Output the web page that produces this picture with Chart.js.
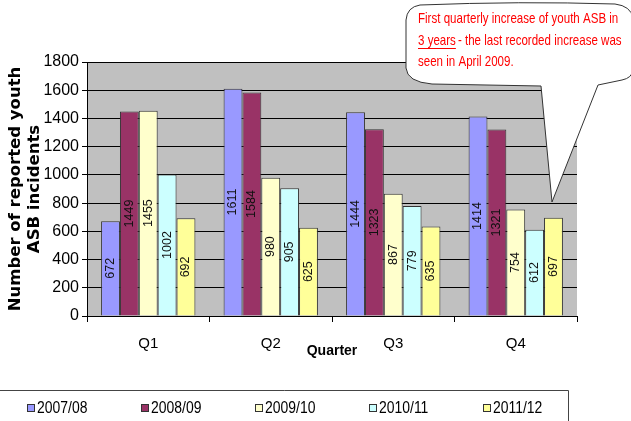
<!DOCTYPE html>
<html>
<head>
<meta charset="utf-8">
<script src="https://cdn.jsdelivr.net/npm/chart.js@4.4.1/dist/chart.umd.min.js"></script>
<style>
html,body{margin:0;padding:0;background:#fff;}
canvas{display:block;}
</style>
</head>
<body>
<canvas id="asbChart" width="631" height="421"></canvas>
<script>
// data
var QUARTERS=['Q1','Q2','Q3','Q4'];
var YEARS=['2007/08','2008/09','2009/10','2010/11','2011/12'];
var Y0708=[672,1611,1444,1414];
var Y0809=[1449,1584,1323,1321];
var Y0910=[1455,980,867,754];
var Y1011=[1002,905,779,612];
var Y1112=[692,625,635,697];
var Y_TICKS=[0,200,400,600,800,1000,1200,1400,1600,1800];
var COLORS=['#9999FF','#993366','#FFFFCC','#CCFFFF','#FFFF99'];
var NOTE_1='First quarterly increase of youth ASB in';
var NOTE_2A='3 years';
var NOTE_2B='- the last recorded increase was';
var NOTE_3='seen in April 2009.';

var SANS="'Liberation Sans',Arial,sans-serif";
var SERIES=[Y0708,Y0809,Y0910,Y1011,Y1112];

// draw text squeezed sideways, like the narrow face in the original
function narrowText(ctx,txt,x,y,sx){
  ctx.save();
  ctx.translate(x,y);
  ctx.scale(sx,1);
  ctx.fillText(txt,0,0);
  ctx.restore();
  return ctx.measureText(txt).width*sx;
}

// grey plot background
var plotBg={
  id:'plotBg',
  beforeDraw:function(chart){
    var a=chart.chartArea,ctx=chart.ctx;
    ctx.save();
    ctx.fillStyle='#C0C0C0';
    ctx.fillRect(a.left,a.top,a.right-a.left,a.bottom-a.top);
    ctx.restore();
  }
};

// rotated value labels in the middle of each bar
var barLabels={
  id:'barLabels',
  afterDatasetsDraw:function(chart){
    var ctx=chart.ctx;
    ctx.save();
    ctx.font='12.5px '+SANS;
    ctx.fillStyle='#111';
    ctx.textAlign='center';
    ctx.textBaseline='middle';
    chart.data.datasets.forEach(function(ds,di){
      chart.getDatasetMeta(di).data.forEach(function(bar,i){
        ctx.save();
        ctx.translate(bar.x,(bar.y+bar.base)/2);
        ctx.rotate(-Math.PI/2);
        ctx.fillText(String(ds.data[i]),0,0);
        ctx.restore();
      });
    });
    ctx.restore();
  }
};

// legend in an open box at the bottom
var legendBox={
  id:'legendBox',
  afterDraw:function(chart){
    var ctx=chart.ctx;
    ctx.save();
    ctx.strokeStyle='#444';
    ctx.lineWidth=1;
    ctx.beginPath();
    ctx.moveTo(0,390.5);ctx.lineTo(568.5,390.5);ctx.lineTo(568.5,421);
    ctx.stroke();
    ctx.font='17px '+SANS;
    ctx.textBaseline='middle';
    ctx.textAlign='left';
    chart.data.datasets.forEach(function(ds,i){
      var x=27+i*114;
      ctx.fillStyle=ds.backgroundColor;
      ctx.fillRect(x+0.5,404.5,7,7);
      ctx.strokeStyle='#333';
      ctx.strokeRect(x+0.5,404.5,7,7);
      ctx.fillStyle='#000';
      narrowText(ctx,ds.label,x+10,408.5,0.82);
    });
    ctx.restore();
  }
};

// speech bubble with the note
var callout={
  id:'callout',
  afterDraw:function(chart){
    var ctx=chart.ctx;
    ctx.save();
    ctx.beginPath();
    ctx.moveTo(420,5);
    ctx.quadraticCurveTo(520,1,615,4);
    ctx.quadraticCurveTo(631,6,633,18);
    ctx.lineTo(633,70);
    ctx.quadraticCurveTo(632,78,622,80);
    ctx.lineTo(598,85);
    ctx.lineTo(552,202);
    ctx.lineTo(541,86);
    ctx.lineTo(432,84);
    ctx.quadraticCurveTo(407,82,406,68);
    ctx.lineTo(406,20);
    ctx.quadraticCurveTo(407,7,420,5);
    ctx.closePath();
    ctx.fillStyle='#fff';
    ctx.fill();
    ctx.strokeStyle='#333';
    ctx.lineWidth=1;
    ctx.stroke();

    ctx.fillStyle='#FF0000';
    ctx.font='15px '+SANS;
    ctx.textBaseline='middle';
    ctx.textAlign='left';
    narrowText(ctx,NOTE_1,418,19,0.77);
    var w=narrowText(ctx,NOTE_2A,418,41,0.77);
    narrowText(ctx,NOTE_2B,418+w+2,41,0.77);
    narrowText(ctx,NOTE_3,418,62,0.77);
    ctx.strokeStyle='#FF0000';
    ctx.beginPath();
    ctx.moveTo(418,48.5);ctx.lineTo(418+w,48.5);
    ctx.stroke();
    ctx.restore();
  }
};

Chart.defaults.font.family=SANS;
Chart.defaults.color='#000';

new Chart(document.getElementById('asbChart'),{
  type:'bar',
  data:{
    labels:QUARTERS,
    datasets:YEARS.map(function(y,i){
      return {
        label:y,
        data:SERIES[i],
        backgroundColor:COLORS[i],
        borderColor:'#333',
        borderWidth:1,
        categoryPercentage:0.77,
        barPercentage:1.0
      };
    })
  },
  options:{
    responsive:false,
    animation:false,
    devicePixelRatio:1,
    layout:{padding:{left:0,right:54,top:62,bottom:61}},
    plugins:{legend:{display:false},tooltip:{enabled:false}},
    scales:{
      x:{
        grid:{drawOnChartArea:false,drawTicks:true,tickLength:6,color:'#000'},
        border:{display:true,color:'#000'},
        ticks:{font:{size:15},color:'#000',padding:13},
        title:{display:true,text:'Quarter',font:{size:14,weight:'bold'},color:'#000',padding:{top:0,bottom:0}},
        afterFit:function(s){s.height=44;}
      },
      y:{
        min:0,max:1800,
        afterBuildTicks:function(s){s.ticks=Y_TICKS.map(function(v){return {value:v};});},
        grid:{color:'#000',lineWidth:1,tickLength:5},
        border:{display:true,color:'#000'},
        ticks:{font:{size:16},color:'#000',padding:3,callback:function(v){return String(v);}},
        title:{
          display:true,
          text:['Number of reported youth','ASB incidents'],
          font:{family:"'DejaVu Sans',sans-serif",size:16.5,weight:'bold',lineHeight:1.1},
          color:'#000',
          padding:{top:7,bottom:0}
        },
        afterFit:function(s){s.width=87;}
      }
    }
  },
  plugins:[plotBg,barLabels,legendBox,callout]
});
</script>
</body>
</html>
